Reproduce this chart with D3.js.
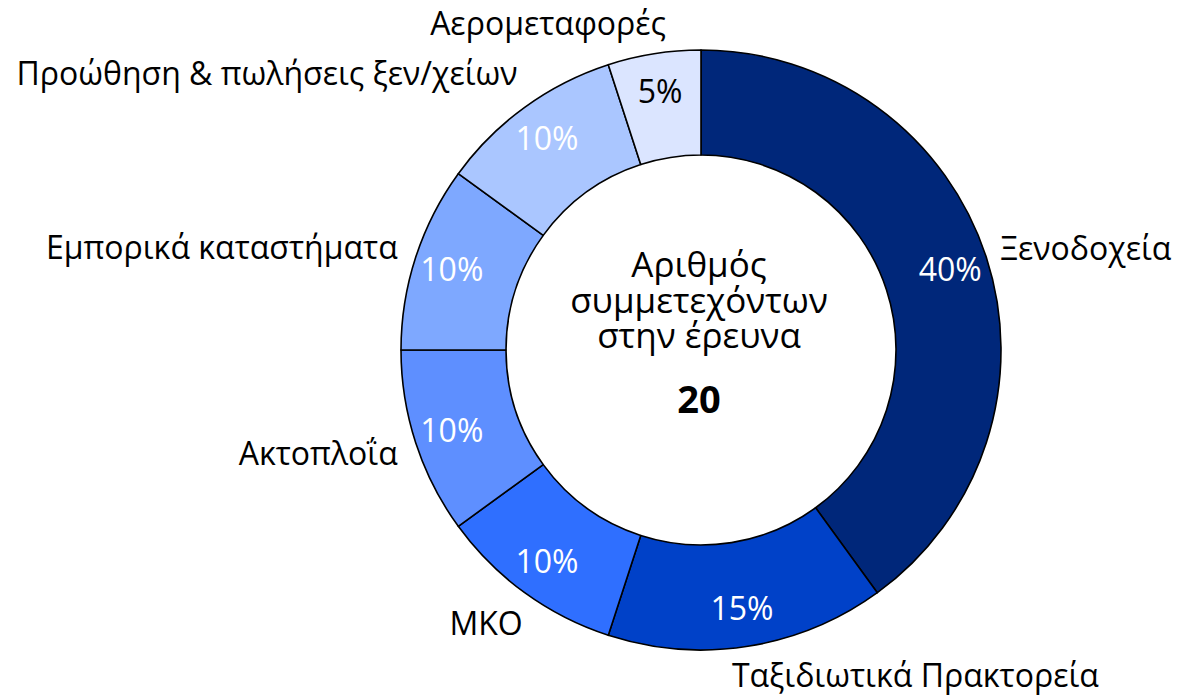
<!DOCTYPE html>
<html>
<head>
<meta charset="utf-8">
<script src="https://cdn.jsdelivr.net/npm/d3@7"></script>
<style>
	html, body { margin: 0; padding: 0; background: #fff; }
	svg { display: block; font-family: "Open Sans", "Noto Sans", sans-serif; }
</style>
</head>
<body>
<svg id="chart" width="1178" height="696"></svg>
<script>
"use strict";

// participants per sector (out of 20)
var sectors = ["Ξενοδοχεία", "Ταξιδιωτικά Πρακτορεία", "ΜΚΟ", "Ακτοπλοΐα",
	"Εμπορικά καταστήματα", "Προώθηση & πωλήσεις ξεν/χείων", "Αερομεταφορές"];
var counts = [8, 3, 2, 2, 2, 2, 1];
var colors = ["#00277a", "#0041c8", "#2f6fff", "#5e8fff", "#7ea8ff", "#aac6ff", "#dbe5ff"];
var pct_colors = ["#fff", "#fff", "#fff", "#fff", "#fff", "#fff", "#000"];
var center_lines = ["Αριθμός", "συμμετεχόντων", "στην έρευνα"];

// label nudges from the outer mid-point of each slice: [dx, dy, anchor]
var label_layout = [
	[14, 3, "start"],
	[-16, 41, "start"],
	[-2, 42, "end"],
	[-18, 22, "end"],
	[-18, 2, "end"],
	[-7, -22, "end"],
	[-106, -19, "middle"]
];

var width = 1178, height = 696;
var cx = 701, cy = 350;
var outer_r = 300, inner_r = 195, pct_r = 262;
var font_size = 32;

var total = d3.sum(counts);
var fmt = d3.format(".0%");

var svg = d3.select("#chart");
var g = svg.append("g")
	.attr("transform", "translate(" + cx + "," + cy + ")");

var pie = d3.pie().sort(null).value(function(d) { return d; });
var arcs = pie(counts);

var arc = d3.arc().innerRadius(inner_r).outerRadius(outer_r);
var pct_arc = d3.arc().innerRadius(pct_r).outerRadius(pct_r);
var edge_arc = d3.arc().innerRadius(outer_r).outerRadius(outer_r);

g.selectAll("path.slice")
	.data(arcs)
	.enter().append("path")
		.attr("class", "slice")
		.attr("d", arc)
		.attr("fill", function(d, i) { return colors[i]; })
		.attr("stroke", "#000")
		.attr("stroke-width", 1.6)
		.attr("stroke-linejoin", "round");

// percentages inside the ring
g.selectAll("text.pct")
	.data(arcs)
	.enter().append("text")
		.attr("class", "pct")
		.attr("transform", function(d) { return "translate(" + pct_arc.centroid(d) + ")"; })
		.attr("text-anchor", "middle")
		.attr("dy", "0.36em")
		.style("font-size", font_size + "px")
		.attr("fill", function(d, i) { return pct_colors[i]; })
		.text(function(d) { return fmt(d.value / total); });

// sector names outside
g.selectAll("text.name")
	.data(arcs)
	.enter().append("text")
		.attr("class", "name")
		.attr("x", function(d, i) { return edge_arc.centroid(d)[0] + label_layout[i][0]; })
		.attr("y", function(d, i) { return edge_arc.centroid(d)[1] + label_layout[i][1]; })
		.attr("text-anchor", function(d, i) { return label_layout[i][2]; })
		.style("font-size", font_size + "px")
		.attr("fill", "#000")
		.text(function(d, i) { return sectors[i]; });

// centre caption
var caption = g.append("text")
	.attr("text-anchor", "middle")
	.style("font-size", "35px")
	.attr("fill", "#000");
caption.selectAll("tspan")
	.data(center_lines)
	.enter().append("tspan")
		.attr("x", -2)
		.attr("y", function(d, i) { return -73 + i * 35.5; })
		.text(function(d) { return d; });
g.append("text")
	.attr("x", -2)
	.attr("y", 63)
	.attr("text-anchor", "middle")
	.style("font-size", "38px")
	.style("font-weight", "bold")
	.attr("fill", "#000")
	.text(total);
</script>
</body>
</html>
